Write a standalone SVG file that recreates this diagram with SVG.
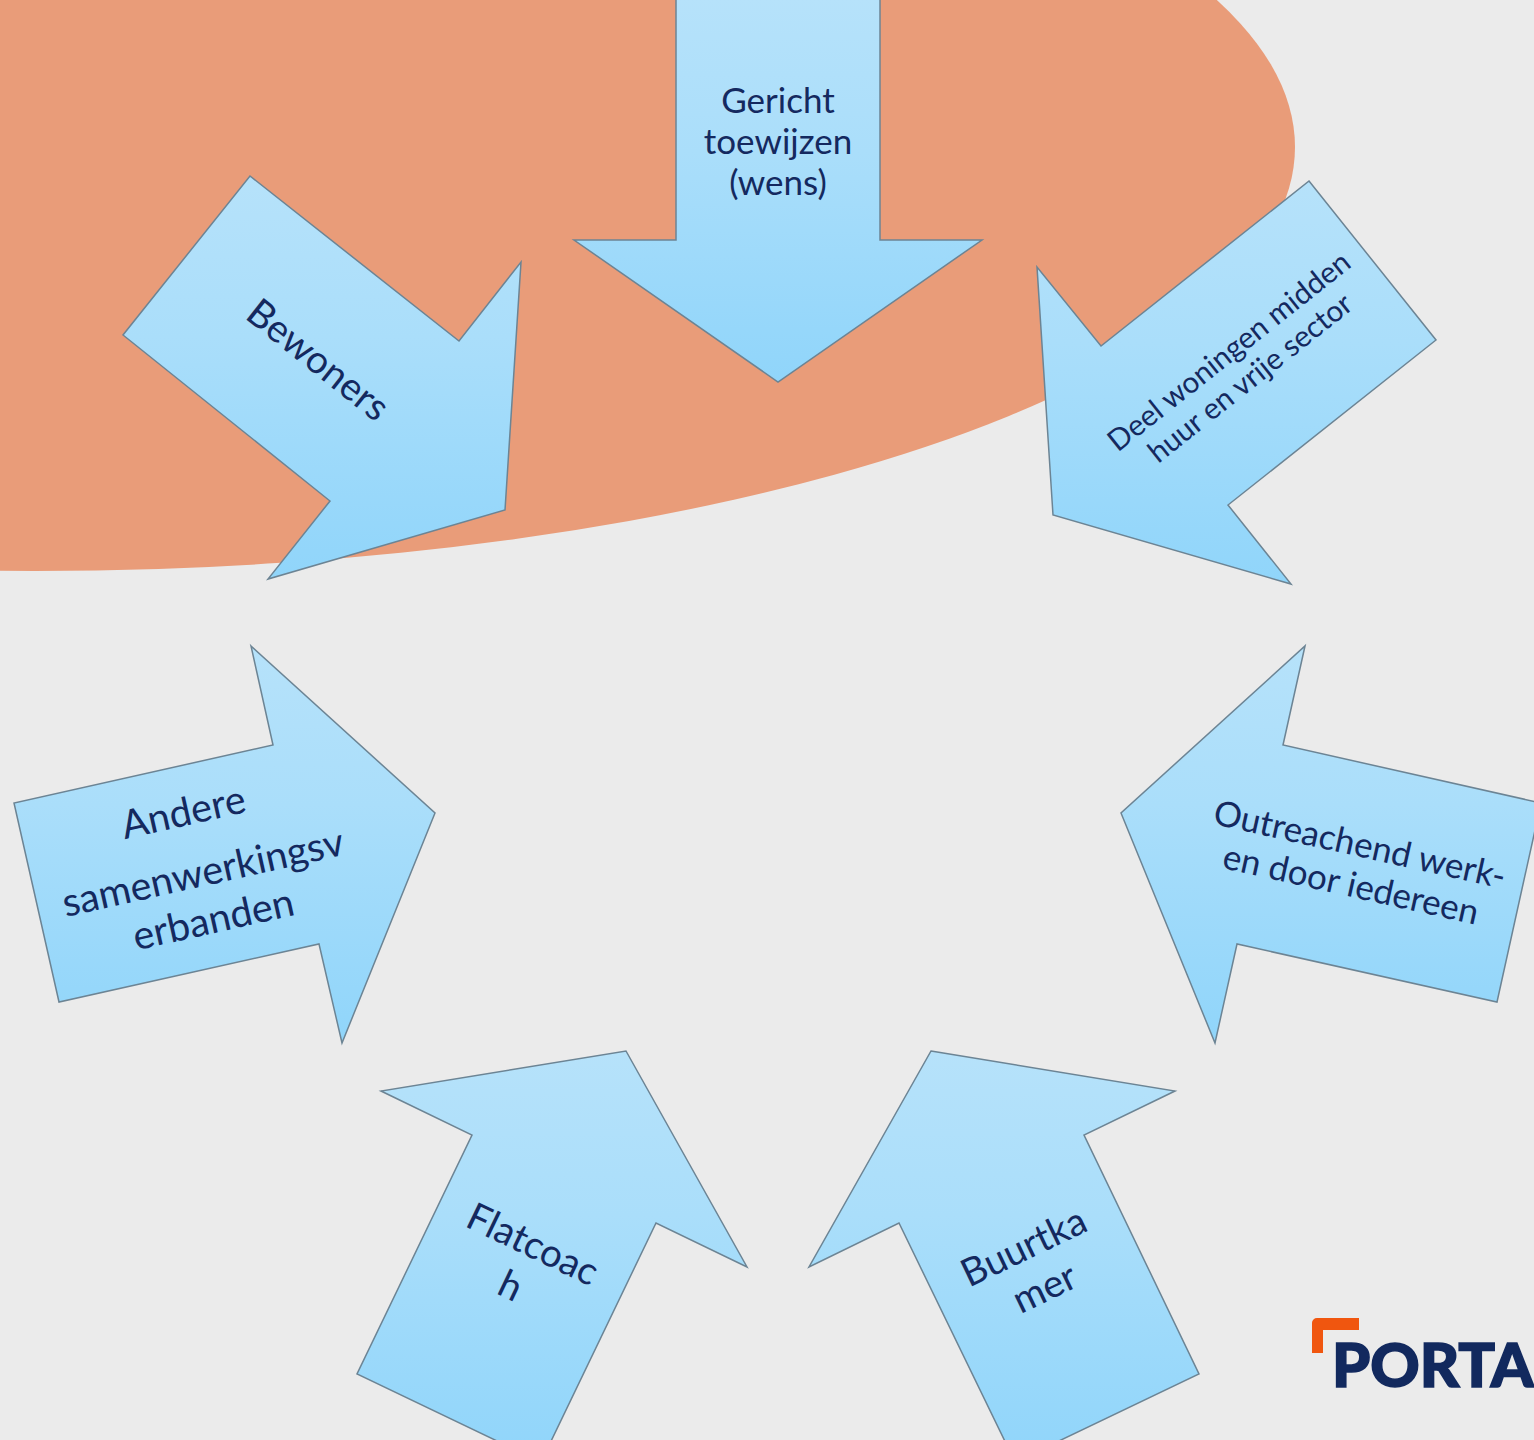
<svg xmlns="http://www.w3.org/2000/svg" width="1534" height="1440" viewBox="0 0 1534 1440">
<style>
.arrow{fill:url(#blue);stroke:#6c8494;stroke-width:1.5;stroke-linejoin:miter}
.t{font-family:"Lato","Open Sans",sans-serif;fill:#14295f;text-anchor:middle}
.l{font-size:35px}
.m{font-size:38.5px}
.b{font-size:39.5px}
.s{font-size:29.7px}
.logo{font-family:"Lato","Liberation Sans",sans-serif;font-weight:900;font-size:61px;fill:#12295e;stroke:#12295e;stroke-width:1.6;letter-spacing:0}
</style>
<defs>
<linearGradient id="blue" x1="0" y1="0" x2="0" y2="1">
<stop offset="0" stop-color="#b6e2fa"/><stop offset="0.4" stop-color="#aadefa"/><stop offset="1" stop-color="#90d5fa"/>
</linearGradient>
</defs>
<rect id="background" width="1534" height="1440" fill="#ebebeb"/>
<ellipse id="blob" cx="35" cy="147" rx="1260" ry="424" fill="#e99c79"/>
<g id="gericht"><polygon class="arrow" points="676,-2 676,240 574,240 778,382 982,240 880,240 880,-2"/>
<text class="t l"><tspan x="778" y="113">Gericht</tspan><tspan x="778" y="154">toewijzen</tspan><tspan x="778" y="195">(wens)</tspan></text></g>
<g id="bewoners"><polygon class="arrow" points="250,176 459,341 521,262 505,510 268,579 330,501 123,335"/>
<text class="t m" transform="translate(318,360) rotate(38.5)" y="13">Bewoners</text></g>
<g id="deel"><polygon class="arrow" points="1309,181 1436,340 1228,505 1291,584 1053,515 1037,267 1101,346"/>
<text class="t s" transform="translate(1239,364) rotate(-38.5)"><tspan x="0" y="-6">Deel woningen midden</tspan><tspan x="0" y="28">huur en vrije sector</tspan></text></g>
<g id="andere"><polygon class="arrow" points="251,646 435,813 342,1043 319,944 59,1002 14,803 273,745"/>
<text class="t b" transform="translate(203,873) rotate(-12.6)"><tspan x="-6" y="-50">Andere</tspan><tspan x="0" y="13">samenwerkingsv</tspan><tspan x="0" y="61">erbanden</tspan></text></g>
<g id="outreach"><polygon class="arrow" points="1305,646 1283,745 1541,803 1497,1002 1237,944 1215,1043 1121,813"/>
<text class="t l" transform="translate(1355,866) rotate(12.6)"><tspan x="0" y="-10">Outreachend werk-</tspan><tspan x="0" y="31">en door iedereen</tspan></text></g>
<g id="flatcoach"><polygon class="arrow" points="626,1051 747,1267 656,1223 541,1462 357,1374 472,1135 381,1091"/>
<text class="t m" transform="translate(527,1256) rotate(25.6)"><tspan x="0" y="0">Flatcoac</tspan><tspan x="-2" y="47">h</tspan></text></g>
<g id="buurtkamer"><polygon class="arrow" points="931,1051 1175,1091 1084,1135 1199,1374 1015,1462 899,1223 809,1267"/>
<text class="t m" transform="translate(1029,1258) rotate(-25.6)"><tspan x="0" y="1">Buurtka</tspan><tspan x="1" y="47">mer</tspan></text></g>
<g id="logo"><path d="M1312,1353V1323a5,5 0 0 1 5,-5H1359V1330H1323V1353Z" fill="#f0560f"/>
<text class="logo" x="1332" y="1387">PORTA</text></g>
<g id="connectors"/>
</svg>
